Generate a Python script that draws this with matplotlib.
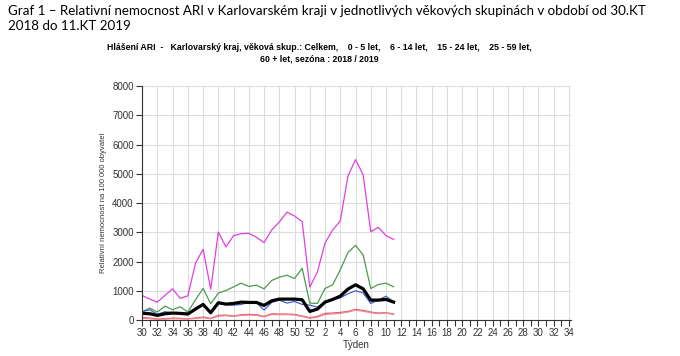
import matplotlib.pyplot as plt
import numpy as np

# tydny sezony 2018/2019 (30.KT 2018 .. 34.KT 2019)
tydny = list(range(30, 53)) + list(range(1, 35))
popisky = [str(t) if t % 2 == 0 else '' for t in tydny]

# hodnoty na 100 000 obyvatel, tydny 30..52, 1..11
celkem = [227, 216, 159, 216, 239, 227, 205, 375, 534, 250, 591, 545, 568, 614,
          602, 602, 500, 659, 716, 716, 716, 693, 295, 375, 614, 705, 818, 1057,
          1205, 1068, 682, 682, 705, 614]
let_0_5 = [841, 716, 614, 841, 1068, 739, 830, 1943, 2420, 1057, 3011, 2500, 2886,
           2955, 2966, 2830, 2648, 3080, 3352, 3693, 3557, 3364, 1125, 1648, 2636,
           3080, 3386, 4920, 5489, 4966, 3023, 3170, 2886, 2761]
let_6_14 = [284, 409, 273, 477, 352, 455, 273, 693, 1080, 557, 920, 1011, 1136, 1261,
            1148, 1193, 1068, 1352, 1466, 1534, 1420, 1773, 580, 568, 1080, 1205,
            1716, 2307, 2557, 2227, 1080, 1216, 1261, 1136]
let_15_24 = [284, 352, 193, 284, 250, 250, 227, 375, 523, 250, 591, 523, 511, 534,
             602, 602, 341, 602, 682, 580, 636, 534, 511, 443, 614, 693, 761, 898,
             1000, 932, 568, 682, 818, 614]
let_25_59 = [91, 68, 34, 45, 68, 57, 45, 68, 102, 57, 159, 170, 136, 182, 193, 182,
             125, 216, 205, 205, 193, 136, 80, 125, 227, 239, 261, 295, 364, 330,
             273, 239, 250, 205]
let_60 = [60, 45, 25, 30, 45, 40, 35, 55, 80, 45, 130, 150, 120, 160, 170, 160,
          110, 190, 180, 185, 170, 120, 60, 100, 190, 210, 230, 270, 340, 300,
          250, 220, 240, 190]

x = np.arange(len(celkem))

fig = plt.figure(figsize=(6.8, 3.56), dpi=100)
ax = fig.add_axes([0.209, 0.101, 0.631, 0.657])

ax.plot(x, let_0_5, color='#e040e0', lw=0.9)
ax.plot(x, let_6_14, color='#4c9a4c', lw=0.9)
ax.plot(x, let_15_24, color='#4060d0', lw=0.9)
ax.plot(x, let_25_59, color='#e05a5a', lw=0.9)
ax.plot(x, let_60, color='#f08898', lw=0.9)
ax.plot(x, celkem, color='black', lw=2.3)

ax.set_xlim(0, len(tydny) - 1 + 0.3)
ax.set_ylim(0, 8000)
ax.set_yticks(range(0, 8001, 1000))
ax.set_xticks(range(len(tydny)))
ax.set_xticklabels(popisky)
ax.grid(True, color='#dddddd', lw=0.8)
# svisla mrizka jen u popsanych tydnu
for i, gl in enumerate(ax.get_xgridlines()):
    if tydny[i] % 2 == 1:
        gl.set_visible(False)
ax.set_axisbelow(True)

for s in ['top', 'right']:
    ax.spines[s].set_visible(False)
ax.spines['left'].set_color('#333333')
ax.spines['bottom'].set_color('#333333')
ax.tick_params(axis='both', labelsize=7, colors='#333333', length=4, pad=2)
for lab in ax.get_xticklabels() + ax.get_yticklabels():
    lab.set_family('Liberation Sans')

ax.set_ylabel('Relativní nemocnost na 100 000 obyvatel', fontsize=5.5,
              family='Liberation Sans', color='#333333', labelpad=4)
ax.set_xlabel('Týden', fontsize=7, family='Liberation Sans', color='#333333',
              labelpad=1)

fig.text(0.012, 0.985, 'Graf 1 – Relativní nemocnost ARI v Karlovarském kraji v jednotlivých věkových skupinách v období od 30.KT\n2018 do 11.KT 2019',
         fontsize=9.6, family='Lato', va='top', ha='left', linespacing=1.3)
fig.text(0.47, 0.878, 'Hlášení ARI  -   Karlovarský kraj, věková skup.: Celkem,    0 - 5 let,    6 - 14 let,    15 - 24 let,    25 - 59 let,\n60 + let, sezóna : 2018 / 2019',
         fontsize=6.3, family=['Liberation Sans Narrow', 'Liberation Sans'],
         weight='bold', ha='center', va='top', linespacing=1.3)

fig.savefig('out.png', dpi=100)
